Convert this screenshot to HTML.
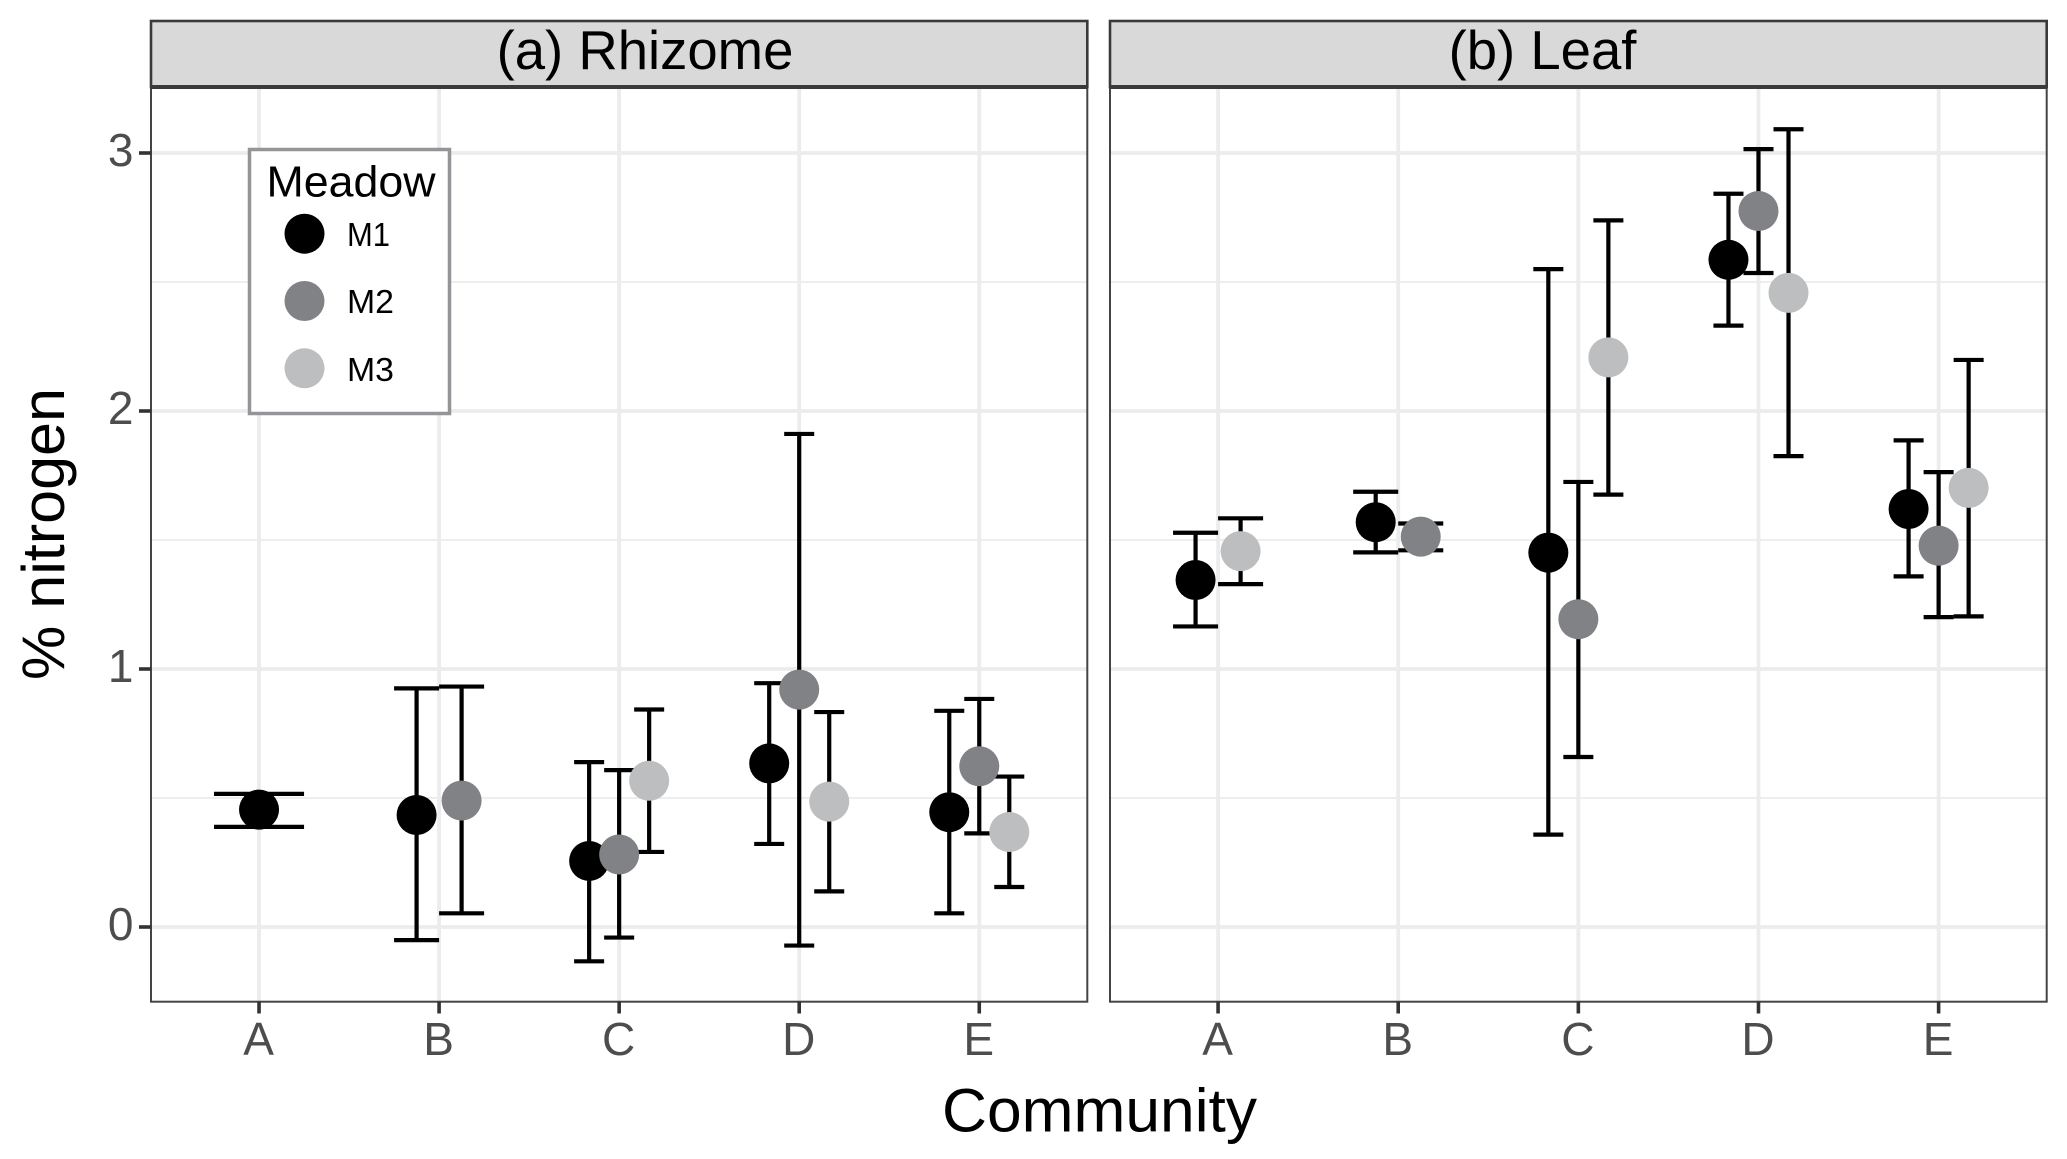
<!DOCTYPE html>
<html lang="en">
<head>
<meta charset="utf-8">
<title>% nitrogen by community</title>
<style>
html,body{margin:0;padding:0;background:#fff;width:2067px;height:1159px;overflow:hidden}
svg{display:block}
text{font-family:"Liberation Sans",sans-serif}
</style>
</head>
<body>
<svg id="chart" xmlns="http://www.w3.org/2000/svg" width="2067" height="1159" viewBox="0 0 2067 1159">
  <rect x="0" y="0" width="2067" height="1159" fill="#fff"/>
  <g id="layer-panels"></g>
  <text x="0" y="0" transform="translate(64,680) rotate(-90)" font-size="60" fill="#000" textLength="292" lengthAdjust="spacingAndGlyphs">% nitrogen</text>
  <text x="942" y="1131.5" font-size="61" fill="#000" textLength="315" lengthAdjust="spacingAndGlyphs">Community</text>
  <g>
    <rect x="249.5" y="149.5" width="200" height="264" fill="#fff" stroke="#939598" stroke-width="3.5"/>
    <text x="266.5" y="196.5" font-size="44" fill="#000" textLength="169" lengthAdjust="spacingAndGlyphs">Meadow</text>
    <circle cx="304.5" cy="233.7" r="20" fill="#000"/>
    <text x="347" y="246" font-size="33" fill="#000" textLength="43" lengthAdjust="spacingAndGlyphs">M1</text>
    <circle cx="304.5" cy="301" r="20" fill="#808285"/>
    <text x="347" y="313" font-size="33" fill="#000" textLength="47" lengthAdjust="spacingAndGlyphs">M2</text>
    <circle cx="304.5" cy="368.3" r="20" fill="#bcbec0"/>
    <text x="347" y="381" font-size="33" fill="#000" textLength="47" lengthAdjust="spacingAndGlyphs">M3</text>
  </g>
</svg>
<script>
const categories = ['A', 'B', 'C', 'D', 'E'];
const yTickLabels = [0, 1, 2, 3];
const yMinorTicks = [0.5, 1.5, 2.5];
const meadows = ['M1', 'M2', 'M3'];

const rhizomeM1Mean = [0.455, 0.434, 0.256, 0.634, 0.445];
const rhizomeM1High = [0.516, 0.925, 0.639, 0.945, 0.838];
const rhizomeM1Low = [0.388, -0.051, -0.133, 0.322, 0.053];
const rhizomeM2Mean = [null, 0.49, 0.281, 0.92, 0.623];
const rhizomeM2High = [null, 0.932, 0.608, 1.911, 0.884];
const rhizomeM2Low = [null, 0.053, -0.041, -0.072, 0.363];
const rhizomeM3Mean = [null, null, 0.567, 0.486, 0.368];
const rhizomeM3High = [null, null, 0.843, 0.833, 0.583];
const rhizomeM3Low = [null, null, 0.291, 0.138, 0.155];

const leafM1Mean = [1.345, 1.569, 1.451, 2.586, 1.62];
const leafM1High = [1.528, 1.687, 2.55, 2.842, 1.886];
const leafM1Low = [1.165, 1.452, 0.358, 2.331, 1.359];
const leafM2Mean = [null, 1.513, 1.193, 2.775, 1.478];
const leafM2High = [null, 1.564, 1.725, 3.015, 1.763];
const leafM2Low = [null, 1.46, 0.659, 2.535, 1.201];
const leafM3Mean = [1.457, null, 2.208, 2.458, 1.702];
const leafM3High = [1.584, null, 2.739, 3.092, 2.198];
const leafM3Low = [1.329, null, 1.676, 1.825, 1.204];

const SVG_NS = 'http://www.w3.org/2000/svg';
const layer = document.getElementById('layer-panels');
const fills = { M1: '#000000', M2: '#808285', M3: '#bcbec0' };
const plotTop = 87;
const plotBottom = 1001.7;
const stripTop = 21;

function yScale(v) {
  return 927 - 258 * v;
}
function xScale(panel, c) {
  const band = (panel.right - panel.left) / (categories.length - 1 + 1.2);
  return panel.left + band * (0.6 + c);
}
function bandWidth(panel) {
  return (panel.right - panel.left) / (categories.length - 1 + 1.2);
}
function make(tag, attrs, parent) {
  const el = document.createElementNS(SVG_NS, tag);
  for (const k in attrs) el.setAttribute(k, attrs[k]);
  parent.appendChild(el);
  return el;
}

function drawPanel(panel) {
  const g = make('g', {}, layer);
  
  

  const bg = make('rect', { x: panel.left, y: plotTop, width: panel.right - panel.left, height: plotBottom - plotTop, fill: '#fff' }, g);
  
  

  yMinorTicks.forEach(function (v) {
    const l = make('line', { x1: panel.left, x2: panel.right, y1: yScale(v), y2: yScale(v), stroke: '#eeeeee', 'stroke-width': 2 }, g);
    
    
  });
  yTickLabels.forEach(function (v) {
    const l = make('line', { x1: panel.left, x2: panel.right, y1: yScale(v), y2: yScale(v), stroke: '#ececec', 'stroke-width': 3.8 }, g);
    
    
  });
  categories.forEach(function (cat, c) {
    const x = xScale(panel, c);
    const l = make('line', { x1: x, x2: x, y1: plotTop, y2: plotBottom, stroke: '#ececec', 'stroke-width': 3.8 }, g);
    
    
  });

  const band = bandWidth(panel);
  const marks = [];
  categories.forEach(function (cat, c) {
    const present = panel.series.filter(function (s) { return s.mean[c] !== null; });
    const n = present.length;
    present.forEach(function (s, i) {
      const x = xScale(panel, c) + (i - (n - 1) / 2) * (0.5 * band / n);
      const half = 0.25 * band / n;
      marks.push({ x: x, s: s, c: c });
      const eb = make('path', {
        d: 'M' + (x - half) + ' ' + yScale(s.high[c]) + 'H' + (x + half) +
           'M' + x + ' ' + yScale(s.high[c]) + 'V' + yScale(s.low[c]) +
           'M' + (x - half) + ' ' + yScale(s.low[c]) + 'H' + (x + half),
        fill: 'none', stroke: '#000', 'stroke-width': 4.2
      }, g);
      
      
    });
  });
  marks.forEach(function (m) {
    const p = make('circle', { cx: m.x, cy: yScale(m.s.mean[m.c]), r: 20, fill: fills[m.s.name] }, g);
    
    
  });

  const border = make('rect', { x: panel.left, y: plotTop, width: panel.right - panel.left, height: plotBottom - plotTop, fill: 'none', stroke: '#444', 'stroke-width': 2 }, g);
  
  

  const strip = make('rect', { x: panel.left, y: stripTop, width: panel.right - panel.left, height: plotTop - stripTop, fill: '#d9d9d9', stroke: '#3a3a3a', 'stroke-width': 2.6 }, g);
  
  

  const stripLine = make('line', { x1: panel.left, x2: panel.right, y1: plotTop, y2: plotTop, stroke: '#3a3a3a', 'stroke-width': 4 }, g);
  
  

  const title = make('text', { x: panel.titleX, y: 69, 'font-size': 54.5, fill: '#000', 'text-anchor': 'middle' }, g);
  title.textContent = panel.title;
  
  

  categories.forEach(function (cat, c) {
    const x = xScale(panel, c);
    const t = make('line', { x1: x, x2: x, y1: plotBottom, y2: 1013.5, stroke: '#333', 'stroke-width': 3.6 }, g);
    
    
    const lab = make('text', { x: x - 0.5, y: 1055, 'font-size': 46, fill: '#4d4d4d', 'text-anchor': 'middle' }, g);
    lab.textContent = cat;
    
    
  });

  if (panel.showY) {
    yTickLabels.forEach(function (v) {
      const t = make('line', { x1: 139, x2: panel.left, y1: yScale(v), y2: yScale(v), stroke: '#333', 'stroke-width': 3.6 }, g);
      
      
      const lab = make('text', { x: 133.5, y: yScale(v) + 13, 'font-size': 46, fill: '#4d4d4d', 'text-anchor': 'end' }, g);
      lab.textContent = String(v);
      
      
    });
  }
}

drawPanel({
  key: 'rhizome', title: '(a) Rhizome', titleX: 645, left: 151, right: 1087.3, showY: true,
  series: [
    { name: meadows[0], mean: rhizomeM1Mean, high: rhizomeM1High, low: rhizomeM1Low },
    { name: meadows[1], mean: rhizomeM2Mean, high: rhizomeM2High, low: rhizomeM2Low },
    { name: meadows[2], mean: rhizomeM3Mean, high: rhizomeM3High, low: rhizomeM3Low }
  ]
});
drawPanel({
  key: 'leaf', title: '(b) Leaf', titleX: 1542.5, left: 1110, right: 2046.7, showY: false,
  series: [
    { name: meadows[0], mean: leafM1Mean, high: leafM1High, low: leafM1Low },
    { name: meadows[1], mean: leafM2Mean, high: leafM2High, low: leafM2Low },
    { name: meadows[2], mean: leafM3Mean, high: leafM3High, low: leafM3Low }
  ]
});
</script>
</body>
</html>
